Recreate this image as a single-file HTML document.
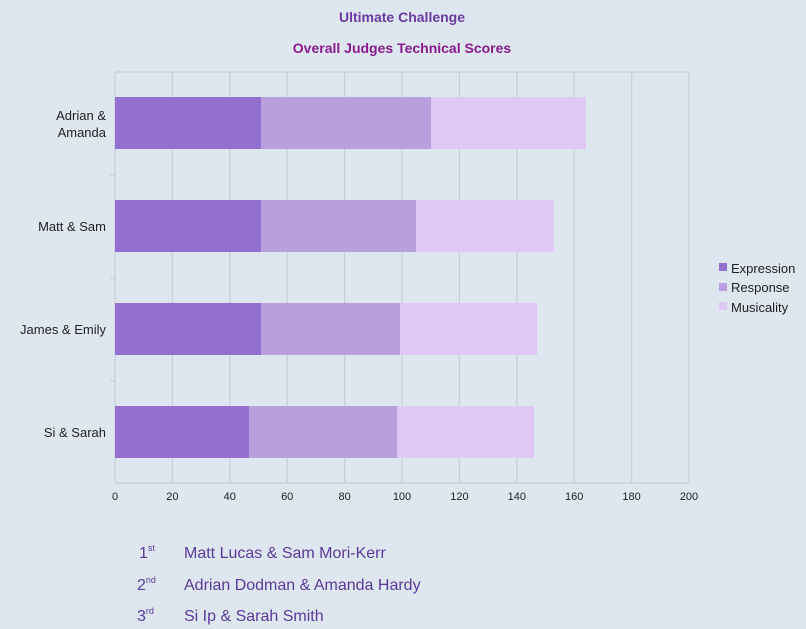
<!DOCTYPE html>
<html><head><style>
body{margin:0;background:#dee6f0;}
svg{display:block;font-family:"Liberation Sans",sans-serif;}
</style></head><body>
<svg width="806" height="629" xmlns="http://www.w3.org/2000/svg">
<rect width="806" height="629" fill="#dee6f0"/>
<text x="402" y="22" text-anchor="middle" font-size="14" font-weight="bold" fill="#6a3aa0">Ultimate Challenge</text>
<text x="402" y="53" text-anchor="middle" font-size="14" font-weight="bold" fill="#8a1a90">Overall Judges Technical Scores</text>
<g stroke="#c8ced8" stroke-width="1.2">
<line x1="115" y1="72" x2="689" y2="72"/>
<line x1="172.4" y1="72" x2="172.4" y2="483"/>
<line x1="229.8" y1="72" x2="229.8" y2="483"/>
<line x1="287.2" y1="72" x2="287.2" y2="483"/>
<line x1="344.6" y1="72" x2="344.6" y2="483"/>
<line x1="402" y1="72" x2="402" y2="483"/>
<line x1="459.4" y1="72" x2="459.4" y2="483"/>
<line x1="516.8" y1="72" x2="516.8" y2="483"/>
<line x1="574.2" y1="72" x2="574.2" y2="483"/>
<line x1="631.6" y1="72" x2="631.6" y2="483"/>
<line x1="689" y1="72" x2="689" y2="483"/>
<line x1="115" y1="72" x2="115" y2="483"/>
<line x1="115" y1="483" x2="689" y2="483"/>
<line x1="110" y1="175" x2="115" y2="175"/>
<line x1="110" y1="278" x2="115" y2="278"/>
<line x1="110" y1="381" x2="115" y2="381"/>
</g>
<g>
<rect x="115" y="97" width="146" height="52" fill="#9370cf"/>
<rect x="261" y="97" width="170" height="52" fill="#b8a0df"/>
<rect x="431" y="97" width="155" height="52" fill="#dfc8f3"/>
<rect x="115" y="200" width="146" height="52" fill="#9370cf"/>
<rect x="261" y="200" width="155" height="52" fill="#b8a0df"/>
<rect x="416" y="200" width="138" height="52" fill="#dfc8f3"/>
<rect x="115" y="303" width="146" height="52" fill="#9370cf"/>
<rect x="261" y="303" width="139" height="52" fill="#b8a0df"/>
<rect x="400" y="303" width="137" height="52" fill="#dfc8f3"/>
<rect x="115" y="406" width="134" height="52" fill="#9370cf"/>
<rect x="249" y="406" width="148" height="52" fill="#b8a0df"/>
<rect x="397" y="406" width="137" height="52" fill="#dfc8f3"/>
</g>
<g font-size="13" fill="#222" text-anchor="end">
<text x="106" y="120">Adrian &amp;</text>
<text x="106" y="137">Amanda</text>
<text x="106" y="231">Matt &amp; Sam</text>
<text x="106" y="334">James &amp; Emily</text>
<text x="106" y="437">Si &amp; Sarah</text>
</g>
<g font-size="11" fill="#222" text-anchor="middle">
<text x="115" y="500">0</text><text x="172.4" y="500">20</text><text x="229.8" y="500">40</text><text x="287.2" y="500">60</text><text x="344.6" y="500">80</text><text x="402" y="500">100</text><text x="459.4" y="500">120</text><text x="516.8" y="500">140</text><text x="574.2" y="500">160</text><text x="631.6" y="500">180</text><text x="689" y="500">200</text>
</g>
<g font-size="13" fill="#222">
<rect x="719" y="263" width="8" height="8" fill="#9370cf"/><text x="731" y="273">Expression</text>
<rect x="719" y="283" width="8" height="8" fill="#b8a0df"/><text x="731" y="292">Response</text>
<rect x="719" y="302" width="8" height="8" fill="#dfc8f3"/><text x="731" y="312">Musicality</text>
</g>
<g font-size="16" fill="#5a3a9a">
<text x="139" y="558">1<tspan font-size="9" dy="-7">st</tspan></text>
<text x="184" y="558">Matt Lucas &amp; Sam Mori-Kerr</text>
<text x="137" y="590">2<tspan font-size="9" dy="-7">nd</tspan></text>
<text x="184" y="590">Adrian Dodman &amp; Amanda Hardy</text>
<text x="137" y="621">3<tspan font-size="9" dy="-7">rd</tspan></text>
<text x="184" y="621">Si Ip &amp; Sarah Smith</text>
</g>
</svg>
</body></html>
